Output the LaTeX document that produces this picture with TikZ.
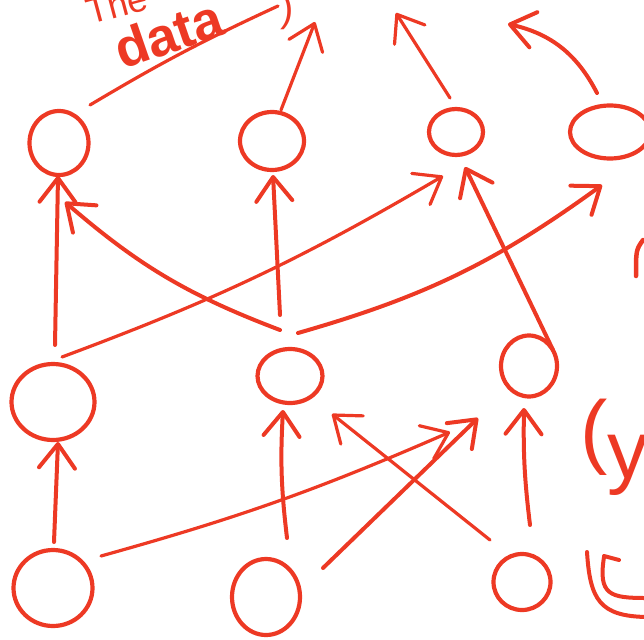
\documentclass[tikz,border=0pt]{standalone}
\usepackage{fontspec}
\setmainfont{Liberation Sans}
\usetikzlibrary{shapes.geometric,arrows.meta}
\definecolor{pen}{RGB}{237,57,36}
\begin{document}
\begin{tikzpicture}[x=1pt,y=-1pt,
  neuron/.style={ellipse,draw=pen,line width=4.2pt,inner sep=0pt},
  link/.style={draw=pen,line width=4pt,line cap=round,line join=round},
  thin link/.style={link,line width=3.2pt},
  arr/.style={-{Straight Barb[length=24pt,width=36pt,round]}},
  lbl/.style={text=pen,inner sep=0pt}]
\useasboundingbox (0,0) rectangle (644,639);
\clip (0,0) rectangle (644,639);
% top layer
\node[neuron,minimum width=59pt,minimum height=64pt] (T1) at (59,143) {};
\node[neuron,minimum width=64pt,minimum height=58pt] (T2) at (272,141) {};
\node[neuron,minimum width=54pt,minimum height=46pt] (T3) at (456,132) {};
\node[neuron,minimum width=80pt,minimum height=53pt] (T4) at (610,132) {};
% middle layer
\node[neuron,minimum width=83pt,minimum height=76pt] (M1) at (53,402) {};
\node[neuron,minimum width=65pt,minimum height=54pt] (M2) at (290,376) {};
\node[neuron,minimum width=56pt,minimum height=61pt] (M3) at (529,366) {};
% bottom layer
\node[neuron,minimum width=79pt,minimum height=76pt] (B1) at (53,588) {};
\node[neuron,minimum width=68pt,minimum height=76pt] (B2) at (266,597) {};
\node[neuron,minimum width=57pt,minimum height=56pt] (B3) at (522,582) {};
% free ends
\coordinate (u1) at (278,6);
\coordinate (o2) at (315,22);
\coordinate (o3) at (396,13);
\coordinate (o4) at (508,24);
% bottom -> middle
\draw[link,arr] ([shift={(1,-46)}]B1.center) -- ([shift={(5,40)}]M1.center);
\draw[thin link,arr] ([shift={(48,-32)}]B1.center) to[bend right=4] ([shift={(-79,66)}]M3.center);
\draw[link,arr] ([shift={(21,-59)}]B2.center) to[bend left=5] ([shift={(-7,34)}]M2.center);
\draw[link,arr] ([shift={(57,-29)}]B2.center) -- ([shift={(-51,52)}]M3.center);
\draw[thin link,arr] ([shift={(-32,-42)}]B3.center) -- ([shift={(42,38)}]M2.center);
\draw[link,arr] ([shift={(8,-57)}]B3.center) to[bend left=4] ([shift={(-5,42)}]M3.center);
% middle -> top
\draw[link,arr] ([shift={(2,-57)}]M1.center) -- ([shift={(-1,33)}]T1.center);
\draw[link,arr] ([shift={(-10,-46)}]M2.center) to[bend left=10] ([shift={(6,59)}]T1.center);
\draw[link,arr] ([shift={(-10,-61)}]M2.center) -- ([shift={(1,34)}]T2.center);
\draw[thin link,arr] ([shift={(9,-45)}]M1.center) to[bend right=5] ([shift={(-13,44)}]T3.center);
\draw[link,arr] ([shift={(8,-43)}]M2.center) to[bend right=10] ([shift={(-8,53)}]T4.center);
\draw[link,arr] ([shift={(24,-16)}]M3.center) -- ([shift={(9,35)}]T3.center);
% top -> outputs
\draw[thin link] ([shift={(31,-38)}]T1.center) to[bend left=3] (u1);
\draw[thin link,arr] ([shift={(9,-31)}]T2.center) -- (o2);
\draw[thin link,arr] ([shift={(-6,-34)}]T3.center) -- (o3);
\draw[link,arr] ([shift={(-13,-39)}]T4.center) to[bend right=25] (o4);
% texts
\node[lbl,rotate=15,anchor=base west,font=\fontsize{36}{36}\selectfont] (l1) at (90,25) {The};
\node[lbl,rotate=19,anchor=base west,font=\bfseries\fontsize{54}{54}\selectfont] (l2) at (122,70) {data};
\node[lbl,anchor=base west,font=\fontsize{40}{40}\selectfont] (l3) at (280,22) {)};
\node[lbl,anchor=base west,font=\fontsize{82}{82}\selectfont] (l4) at (580,458) {(\raisebox{-20pt}{y}};
% partial strokes at the right edge
\draw[link,line width=4.5pt] (643,240) .. controls (636,250) .. (636,276);
\draw[link] (587,552) .. controls (590,600) and (600,616) .. (646,617);
\draw[link] (604,557) .. controls (598,595) and (610,598) .. (646,598);
\draw[link] (604,556) -- (619,560);
\end{tikzpicture}
\end{document}
